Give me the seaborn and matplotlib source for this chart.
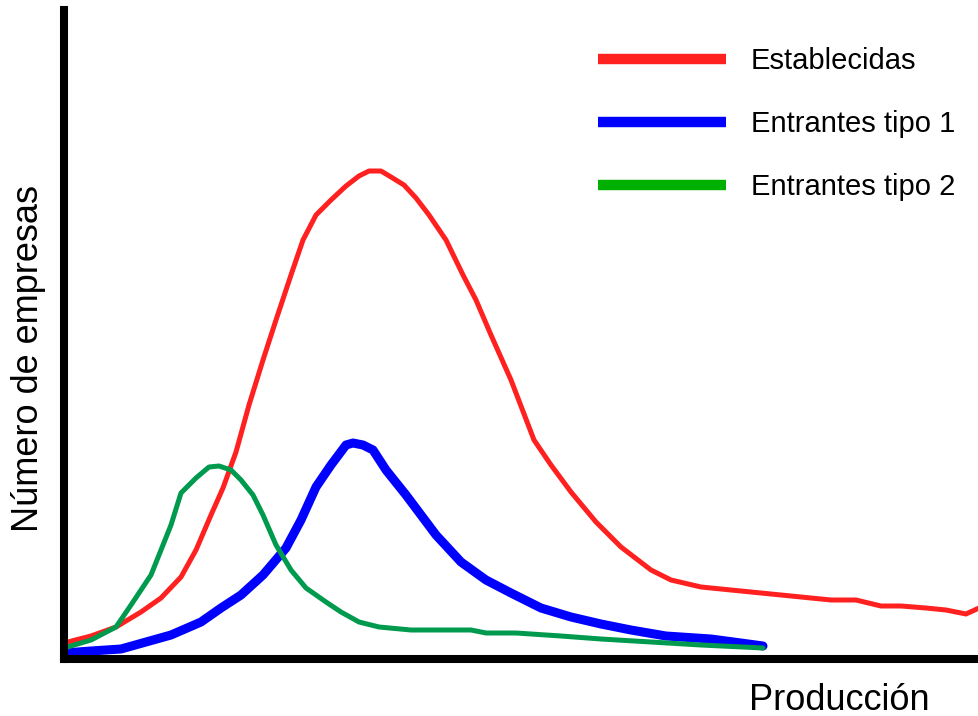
import numpy as np
import pandas as pd
import seaborn as sns
import matplotlib.pyplot as plt
from matplotlib.lines import Line2D

# values (x = producción, y = número de empresas, arbitrary units)
est_x = [0, 27, 52, 77, 97, 117, 132, 147, 159, 172, 185, 199, 212, 227, 239, 252, 267, 282,
         295, 305, 317, 327, 340, 352, 365, 382, 399, 412, 427, 447, 470, 487, 507, 532,
         557, 587, 607, 637, 667, 697, 737, 767, 792, 817, 837, 862, 882, 902, 915]
est_y = [16, 23, 32, 47, 61, 82, 109, 144, 171, 207, 254, 299, 339, 384, 419, 444, 459, 473,
         483, 488, 488, 482, 474, 461, 444, 419, 384, 359, 324, 279, 219, 194, 167, 137,
         112, 89, 79, 72, 69, 66, 62, 59, 59, 53, 53, 51, 49, 45, 51]

ent1_x = [0, 27, 57, 82, 107, 137, 157, 177, 199, 222, 237, 252, 267, 282, 289, 299, 309,
          322, 342, 357, 372, 397, 422, 447, 477, 507, 537, 567, 602, 647, 677, 699]
ent1_y = [6, 8, 10, 17, 24, 37, 51, 64, 84, 111, 139, 172, 194, 214, 216, 214, 209,
          189, 164, 144, 124, 97, 79, 66, 51, 42, 35, 29, 23, 20, 16, 13]

ent2_x = [0, 27, 52, 67, 77, 87, 99, 107, 117, 132, 145, 155, 167, 177, 189, 199, 212,
          227, 242, 262, 277, 295, 315, 347, 377, 407, 422, 452, 497, 537, 587, 637, 699]
ent2_y = [11, 19, 32, 54, 69, 84, 114, 134, 166, 181, 192, 193, 189, 179, 164, 144, 114,
          89, 71, 57, 47, 37, 32, 29, 29, 29, 26, 26, 23, 20, 17, 14, 11]

labels = ['Establecidas', 'Entrantes tipo 1', 'Entrantes tipo 2']
curve_colors = ['#ff2020', '#0000ff', '#009a4e']
legend_colors = ['#ff2020', '#0000ff', '#00b000']

sns.set_style('white')
plt.rcParams['text.color'] = 'black'
fig = plt.figure(figsize=(9.79, 7.16), dpi=100)
ax = fig.add_axes([64 / 979, 57 / 716, 915 / 979, 649 / 716])

sns.lineplot(x=est_x, y=est_y, ax=ax, color=curve_colors[0], linewidth=3.6, sort=False)
sns.lineplot(x=ent1_x, y=ent1_y, ax=ax, color=curve_colors[1], linewidth=6.5, sort=False)
sns.lineplot(x=ent2_x, y=ent2_y, ax=ax, color=curve_colors[2], linewidth=3.6, sort=False)

ax.set_xlim(0, 915)
ax.set_ylim(0, 649)
ax.set_xticks([])
ax.set_yticks([])
for side in ['top', 'right']:
    ax.spines[side].set_visible(False)
for side in ['left', 'bottom']:
    ax.spines[side].set_color('black')
    ax.spines[side].set_linewidth(5.8)

handles = [Line2D([], [], color=c, linewidth=7.5, solid_capstyle='butt') for c in legend_colors]
leg = ax.legend(handles, labels, loc='upper left', bbox_to_anchor=(598 / 979, 1 - 47 / 716),
                bbox_transform=fig.transFigure, frameon=False, borderpad=0, borderaxespad=0,
                handlelength=4.4, handletextpad=0.85, labelspacing=1.2,
                prop={'family': ['Liberation Sans', 'DejaVu Sans'], 'size': 21})

fig.text(839 / 979, 1 - 700 / 716, 'Producción', ha='center', va='center',
         fontsize=26, family=['Liberation Sans', 'DejaVu Sans'])
fig.text(29 / 979, 1 - 358 / 716, 'Número de empresas', ha='center', va='center',
         rotation=90, fontsize=26, family=['Liberation Sans', 'DejaVu Sans'])

fig.savefig('out.png', dpi=100)
